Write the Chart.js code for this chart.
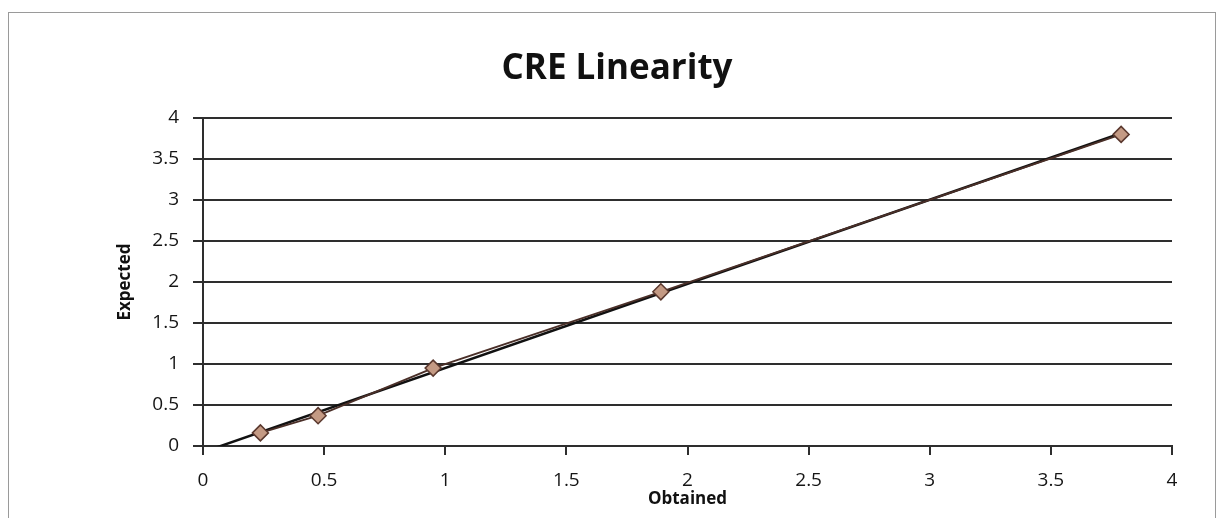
<!DOCTYPE html>
<html>
<head>
<meta charset="utf-8">
<title>CRE Linearity</title>
<script src="https://cdn.jsdelivr.net/npm/chart.js@4/dist/chart.umd.min.js"></script>
<style>
  html, body { margin: 0; padding: 0; background: #fff; }
  #wrap { position: relative; width: 1223px; height: 518px; }
  #frame { position: absolute; left: 8px; top: 12px; width: 1206px; height: 510px; border: 1px solid #9a9a9a; }
  canvas { position: absolute; left: 0; top: 0; }
</style>
</head>
<body>
<div id="wrap">
  <div id="frame"></div>
  <canvas id="creChart" width="1223" height="518"></canvas>
</div>
<script>
// values
var obtained = [0.237, 0.475, 0.95, 1.89, 3.79];
var expected = [0.16, 0.37, 0.95, 1.88, 3.80];
var axisTicks = [0, 0.5, 1, 1.5, 2, 2.5, 3, 3.5, 4];

// linear trendline (least squares), like Excel's
function linearFit(xs, ys) {
	var n = xs.length, mx = 0, my = 0, sxy = 0, sxx = 0;
	for (var i = 0; i < n; i++) { mx += xs[i]; my += ys[i]; }
	mx /= n; my /= n;
	for (var j = 0; j < n; j++) {
		sxy += (xs[j] - mx) * (ys[j] - my);
		sxx += (xs[j] - mx) * (xs[j] - mx);
	}
	var slope = sxy / sxx;
	return { slope: slope, intercept: my - slope * mx };
}

var fit = linearFit(obtained, expected);
var trendX = [0, obtained[obtained.length - 1]];

var points = obtained.map(function (x, i) { return { x: x, y: expected[i] }; });
var trendPoints = trendX.map(function (x) { return { x: x, y: fit.slope * x + fit.intercept }; });

var gridColor = '#2e2e2e';
var textColor = '#151515';

// Excel style labels: 0, 0.5, 1 ... (no trailing .0)
function plainLabel(value) {
	return String(value);
}

new Chart(document.getElementById('creChart').getContext('2d'), {
	type: 'scatter',
	data: {
		datasets: [{
			label: 'Expected',
			data: points,
			showLine: true,
			borderColor: '#4a2f28',
			borderWidth: 2,
			pointStyle: 'rectRot',
			pointRadius: 8,
			pointHoverRadius: 8,
			pointBackgroundColor: '#c49a84',
			pointBorderColor: '#5a382e',
			pointBorderWidth: 1.5,
			order: 0
		}, {
			label: 'Linear (Expected)',
			data: trendPoints,
			showLine: true,
			borderColor: '#111',
			borderWidth: 2.5,
			pointRadius: 0,
			order: 1
		}]
	},
	options: {
		responsive: false,
		animation: false,
		layout: {
			padding: { left: 62, right: 51, top: 0, bottom: 0 }
		},
		plugins: {
			legend: { display: false },
			tooltip: { enabled: false },
			title: {
				display: true,
				text: 'CRE Linearity',
				color: '#111',
				font: { family: 'Open Sans', size: 35, weight: 'bold' },
				padding: { top: 48, bottom: 28 }
			}
		},
		scales: {
			x: {
				type: 'linear',
				min: 0,
				max: 4,
				afterBuildTicks: function (scale) {
					scale.ticks = axisTicks.map(function (v) { return { value: v }; });
				},
				afterFit: function (scale) { scale.height = 72; },
				ticks: {
					color: textColor,
					font: { family: 'Open Sans', size: 19 },
					padding: 14,
					maxRotation: 0,
					callback: plainLabel
				},
				grid: {
					drawOnChartArea: false,
					drawTicks: true,
					tickLength: 9,
					color: gridColor,
					lineWidth: 2
				},
				border: { display: true, color: gridColor, width: 2 },
				title: {
					display: true,
					text: 'Obtained',
					color: '#111',
					font: { family: 'Open Sans', size: 17, weight: 'bold' },
					padding: { top: 0, bottom: 9 }
				}
			},
			y: {
				type: 'linear',
				min: 0,
				max: 4,
				afterBuildTicks: function (scale) {
					scale.ticks = axisTicks.map(function (v) { return { value: v }; });
				},
				afterFit: function (scale) { scale.width = 141; },
				ticks: {
					color: textColor,
					font: { family: 'Open Sans', size: 19 },
					padding: 14,
					callback: plainLabel
				},
				grid: {
					color: gridColor,
					lineWidth: 2,
					drawTicks: true,
					tickLength: 10
				},
				border: { display: true, color: gridColor, width: 2 },
				title: {
					display: true,
					text: 'Expected',
					color: '#111',
					font: { family: 'Open Sans', size: 17, weight: 'bold' },
					padding: { top: 53, bottom: 0 }
				}
			}
		}
	}
});
</script>
</body>
</html>
